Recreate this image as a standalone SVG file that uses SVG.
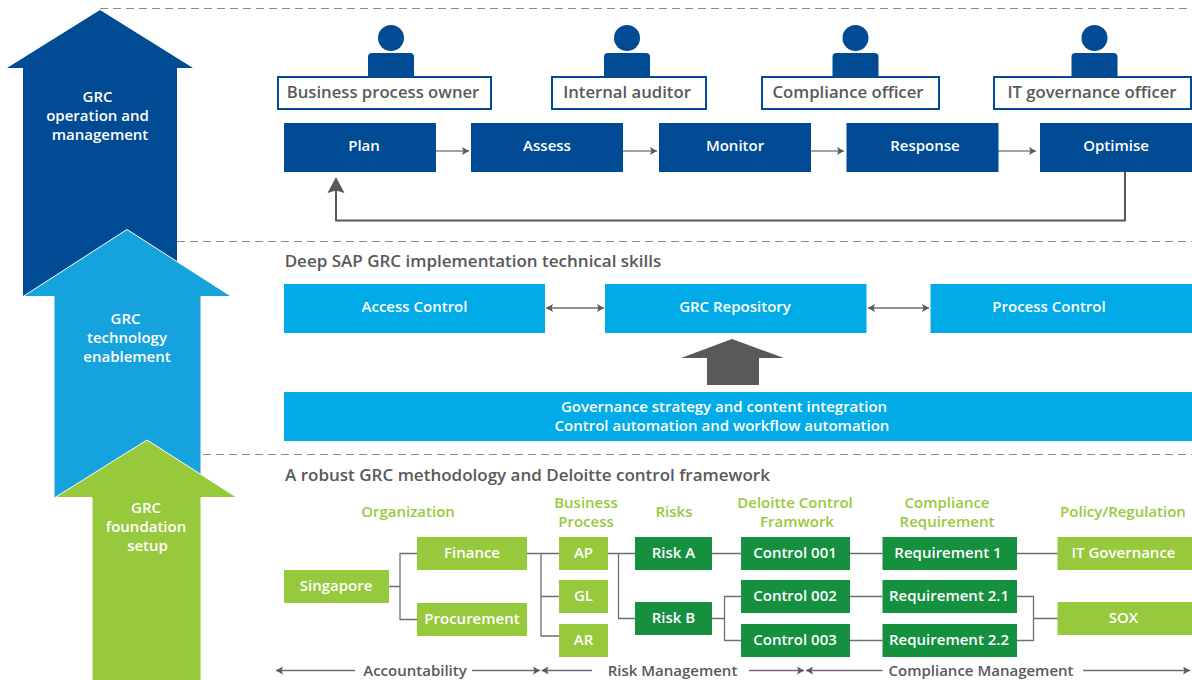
<svg xmlns="http://www.w3.org/2000/svg" width="1192" height="680" viewBox="0 0 1192 680">
<style>
text{font-family:"Open Sans","Noto Sans","Liberation Sans",sans-serif;font-weight:600;font-size:15px;text-anchor:middle}
.w{fill:#fff}.g{fill:#58595b}.l{fill:#97c93d}
.h{font-size:16.7px}
.s{font-size:17px}
.navy{fill:#004b93}.sky{fill:#00abe8}.lime{fill:#97c93d}.green{fill:#14903f}
.role{fill:#fff;stroke:#004b93;stroke-width:2}
.dash{fill:none;stroke:#8c8c8c;stroke-width:1;stroke-dasharray:8 5}
.c{fill:none;stroke:#6d6e71;stroke-width:1.3}
.a{fill:none;stroke:#808285;stroke-width:1.3}
</style>
<defs>
<marker id="ah" markerUnits="userSpaceOnUse" markerWidth="8" markerHeight="8" refX="7" refY="4" orient="auto-start-reverse"><path d="M0 0L7 4L0 8L1.5 4Z" fill="#58595b"/></marker>
<marker id="big" markerUnits="userSpaceOnUse" markerWidth="18" markerHeight="18" refX="12" refY="9" orient="auto"><path d="M0 0.5L16 9L0 17.5L2.500 9Z" fill="#58595b"/></marker>
<g id="person"><circle cx="0" cy="38" r="13" class="navy"/><path d="M-23 76V57a4 4 0 0 1 4-4H19a4 4 0 0 1 4 4V76Z" class="navy"/></g>
</defs>

<g id="dashes">
<path class="dash" d="M100 8.5H1192M177 241.5H1192M203 454.5H1192"/>
</g>

<g id="arrow-operation"><path class="navy" d="M100 10L193 68H177V296H23V68H7Z"/><text class="w" x="97.500" y="102">GRC</text><text class="w" x="97.500" y="121">operation and</text><text class="w" x="100" y="140">management</text></g>
<g id="arrow-technology"><path d="M127 229.500L231.500 296.500H201V498H54V296.500H23Z" fill="#16a2dc" stroke="#fff" stroke-width="1"/><text class="w" x="125.500" y="324">GRC</text><text class="w" x="127" y="343">technology</text><text class="w" x="127" y="362">enablement</text></g>
<g id="arrow-foundation"><path class="lime" stroke="#fff" stroke-width="1" d="M147 440L237 497.500H201V681H92V497.500H55Z"/><text class="w" x="146" y="513">GRC</text><text class="w" x="146" y="532">foundation</text><text class="w" x="147.500" y="551">setup</text></g>

<g id="connectors">
<path class="a" marker-end="url(#ah)" d="M436 151H469"/>
<path class="a" marker-end="url(#ah)" d="M623 151H657"/>
<path class="a" marker-end="url(#ah)" d="M811 151H844"/>
<path class="a" marker-end="url(#ah)" d="M998 151H1036"/>
<path d="M1125 172V220.500H336V181" fill="none" stroke="#58595b" stroke-width="2" marker-end="url(#big)"/>
<path class="c" marker-start="url(#ah)" marker-end="url(#ah)" d="M546 308H604"/>
<path class="c" marker-start="url(#ah)" marker-end="url(#ah)" d="M868 308H929"/>
<path class="c" d="M389 586.500H400M417 553.500H400V619.500H417"/>
<path class="c" d="M527 553.500H559M541 553.500V636H559M541 596.500H559"/>
<path class="c" d="M608 553.500H635M618.500 553.500V618.500H635"/>
<path class="c" d="M712 553.500H741M850 553.500H882.500M1017 553.500H1058"/>
<path class="c" d="M712 618.500H724.500M741 596.500H724.500V640.500H741"/>
<path class="c" d="M850 596.500H882.500M850 640.500H882.500"/>
<path class="c" d="M1017 596.500H1033.500V640.500H1017M1033.500 618.500H1058"/>
<path class="c" marker-start="url(#ah)" d="M276 670.500H355"/>
<path class="c" marker-end="url(#ah)" d="M472 670.500H540"/>
<path class="c" marker-start="url(#ah)" d="M541.500 670.500H592"/>
<path class="c" marker-end="url(#ah)" d="M749 670.500H804"/>
<path class="c" marker-start="url(#ah)" d="M806 670.500H882.500"/>
<path class="c" marker-end="url(#ah)" d="M1083 670.500H1190"/>
</g>

<g id="role-owner"><use href="#person" x="391"/><rect class="role" x="278" y="77" width="213" height="32"/><text class="g h" x="383" y="98">Business process owner</text></g>
<g id="role-auditor"><use href="#person" x="627"/><rect class="role" x="552" y="77" width="154" height="32"/><text class="g h" x="627" y="98">Internal auditor</text></g>
<g id="role-compliance"><use href="#person" x="855.500"/><rect class="role" x="762" y="77" width="177" height="32"/><text class="g h" x="848" y="98">Compliance officer</text></g>
<g id="role-it"><use href="#person" x="1094.500"/><rect class="role" x="994" y="77" width="197" height="32"/><text class="g h" x="1092" y="98">IT governance officer</text></g>

<g id="plan"><rect class="navy" x="284" y="123" width="152" height="49"/><text class="w" x="364" y="151">Plan</text></g>
<g id="assess"><rect class="navy" x="471" y="123" width="152" height="49"/><text class="w" x="547" y="151">Assess</text></g>
<g id="monitor"><rect class="navy" x="659" y="123" width="152" height="49"/><text class="w" x="735" y="151">Monitor</text></g>
<g id="response"><rect class="navy" x="846.500" y="123" width="152" height="49"/><text class="w" x="925" y="151">Response</text></g>
<g id="optimise"><rect class="navy" x="1040" y="123" width="152" height="49"/><text class="w" x="1116" y="151">Optimise</text></g>

<text class="g s" x="473" y="267">Deep SAP GRC implementation technical skills</text>
<g id="access-control"><rect class="sky" x="284" y="284" width="261" height="49"/><text class="w" x="414.500" y="312">Access Control</text></g>
<g id="grc-repository"><rect class="sky" x="605" y="284" width="261.500" height="49"/><text class="w" x="735" y="312">GRC Repository</text></g>
<g id="process-control"><rect class="sky" x="930.500" y="284" width="261.500" height="49"/><text class="w" x="1049" y="312">Process Control</text></g>
<g id="up-arrow"><path d="M732 339L784 358H759V385H707V358H681Z" fill="#58595b"/></g>
<g id="governance"><rect class="sky" x="284" y="392" width="908" height="49"/><text class="w" x="724" y="412">Governance strategy and content integration</text><text class="w" x="722" y="431">Control automation and workflow automation</text></g>

<text class="g s" x="527.500" y="481">A robust GRC methodology and Deloitte control framework</text>

<text class="l" x="408" y="517">Organization</text>
<text class="l" x="586" y="508">Business</text><text class="l" x="586" y="527">Process</text>
<text class="l" x="674" y="517">Risks</text>
<text class="l" x="795" y="508">Deloitte Control</text><text class="l" x="797" y="527">Framwork</text>
<text class="l" x="947" y="508">Compliance</text><text class="l" x="947" y="527">Requirement</text>
<text class="l" x="1123" y="517">Policy/Regulation</text>

<g id="singapore"><rect class="lime" x="284" y="570" width="105" height="33"/><text class="w" x="336" y="591">Singapore</text></g>
<g id="finance"><rect class="lime" x="417" y="537" width="110" height="33"/><text class="w" x="472" y="558">Finance</text></g>
<g id="procurement"><rect class="lime" x="417" y="603" width="110" height="33"/><text class="w" x="472" y="624">Procurement</text></g>
<g id="ap"><rect class="lime" x="559" y="537" width="49" height="33"/><text class="w" x="583.500" y="558">AP</text></g>
<g id="gl"><rect class="lime" x="559" y="580" width="49" height="33"/><text class="w" x="583.500" y="601">GL</text></g>
<g id="ar"><rect class="lime" x="559" y="624" width="49" height="33"/><text class="w" x="583.500" y="645">AR</text></g>
<g id="risk-a"><rect class="green" x="635" y="537" width="77" height="33"/><text class="w" x="673.500" y="558">Risk A</text></g>
<g id="risk-b"><rect class="green" x="635" y="602" width="77" height="33"/><text class="w" x="673.500" y="623">Risk B</text></g>
<g id="control-001"><rect class="green" x="741" y="537" width="109" height="33"/><text class="w" x="795" y="558">Control 001</text></g>
<g id="control-002"><rect class="green" x="741" y="580" width="109" height="33"/><text class="w" x="795" y="601">Control 002</text></g>
<g id="control-003"><rect class="green" x="741" y="624" width="109" height="33"/><text class="w" x="795" y="645">Control 003</text></g>
<g id="req-1"><rect class="green" x="882.500" y="537" width="134.500" height="33"/><text class="w" x="948" y="558">Requirement 1</text></g>
<g id="req-21"><rect class="green" x="882.500" y="580" width="134.500" height="33"/><text class="w" x="949" y="601">Requirement 2.1</text></g>
<g id="req-22"><rect class="green" x="882.500" y="624" width="134.500" height="33"/><text class="w" x="949" y="645">Requirement 2.2</text></g>
<g id="it-governance"><rect class="lime" x="1057.500" y="537" width="134.500" height="33"/><text class="w" x="1123.500" y="558">IT Governance</text></g>
<g id="sox"><rect class="lime" x="1057.500" y="602" width="134.500" height="33"/><text class="w" x="1123.500" y="623">SOX</text></g>

<text class="g" x="415" y="676">Accountability</text>
<text class="g" x="672.500" y="676">Risk Management</text>
<text class="g" x="981" y="676">Compliance Management</text>
</svg>
